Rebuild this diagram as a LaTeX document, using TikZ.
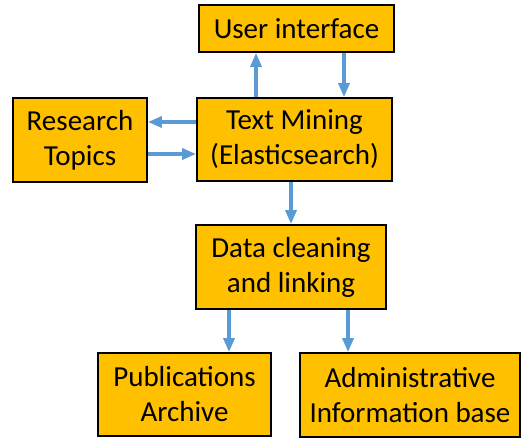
\documentclass[tikz,border=0pt]{standalone}
\usepackage{fontspec}
\setmainfont{Carlito}
\usetikzlibrary{arrows.meta}
\definecolor{boxfill}{HTML}{FFC000}
\definecolor{arrblue}{HTML}{5B9BD5}
\begin{document}
\begin{tikzpicture}[x=1pt,y=-1pt,
  box/.style={draw=black,line width=1.8pt,fill=boxfill,inner sep=0pt,align=center,
    font=\fontsize{29}{35}\selectfont},
  arr/.style={draw=arrblue,line width=3.3pt,-{Triangle[length=14pt,width=11pt]}}]
\useasboundingbox (0,0) rectangle (522,438);
\node[box,minimum width=195pt,minimum height=47pt] (UI) at (296.5,28.5) {User interface};
\node[box,minimum width=195pt,minimum height=83pt] (TM) at (294.5,139.5) {Text Mining\\(Elasticsearch)};
\node[box,minimum width=134pt,minimum height=84pt] (RT) at (80,140) {Research\\Topics};
\node[box,minimum width=190pt,minimum height=84pt] (DC) at (291,267) {Data cleaning\\and linking};
\node[box,minimum width=173pt,minimum height=83pt] (PA) at (184.5,394.5) {Publications\\Archive};
\node[box,minimum width=220pt,minimum height=84pt] (AI) at (410,395) {Administrative\\Information base};
\coordinate (c1) at (256,0);
\coordinate (c2) at (344,0);
\coordinate (c3) at (0,122);
\coordinate (c4) at (0,154);
\coordinate (c5) at (291,0);
\coordinate (c6) at (229,0);
\coordinate (c7) at (348,0);
\draw[arr] (TM.north -| c1) -- (UI.south -| c1);
\draw[arr] (UI.south -| c2) -- (TM.north -| c2);
\draw[arr] (TM.west |- c3) -- (RT.east |- c3);
\draw[arr] (RT.east |- c4) -- (TM.west |- c4);
\draw[arr] (TM.south -| c5) -- (DC.north -| c5);
\draw[arr] (DC.south -| c6) -- (PA.north -| c6);
\draw[arr] (DC.south -| c7) -- (AI.north -| c7);
\end{tikzpicture}
\end{document}
